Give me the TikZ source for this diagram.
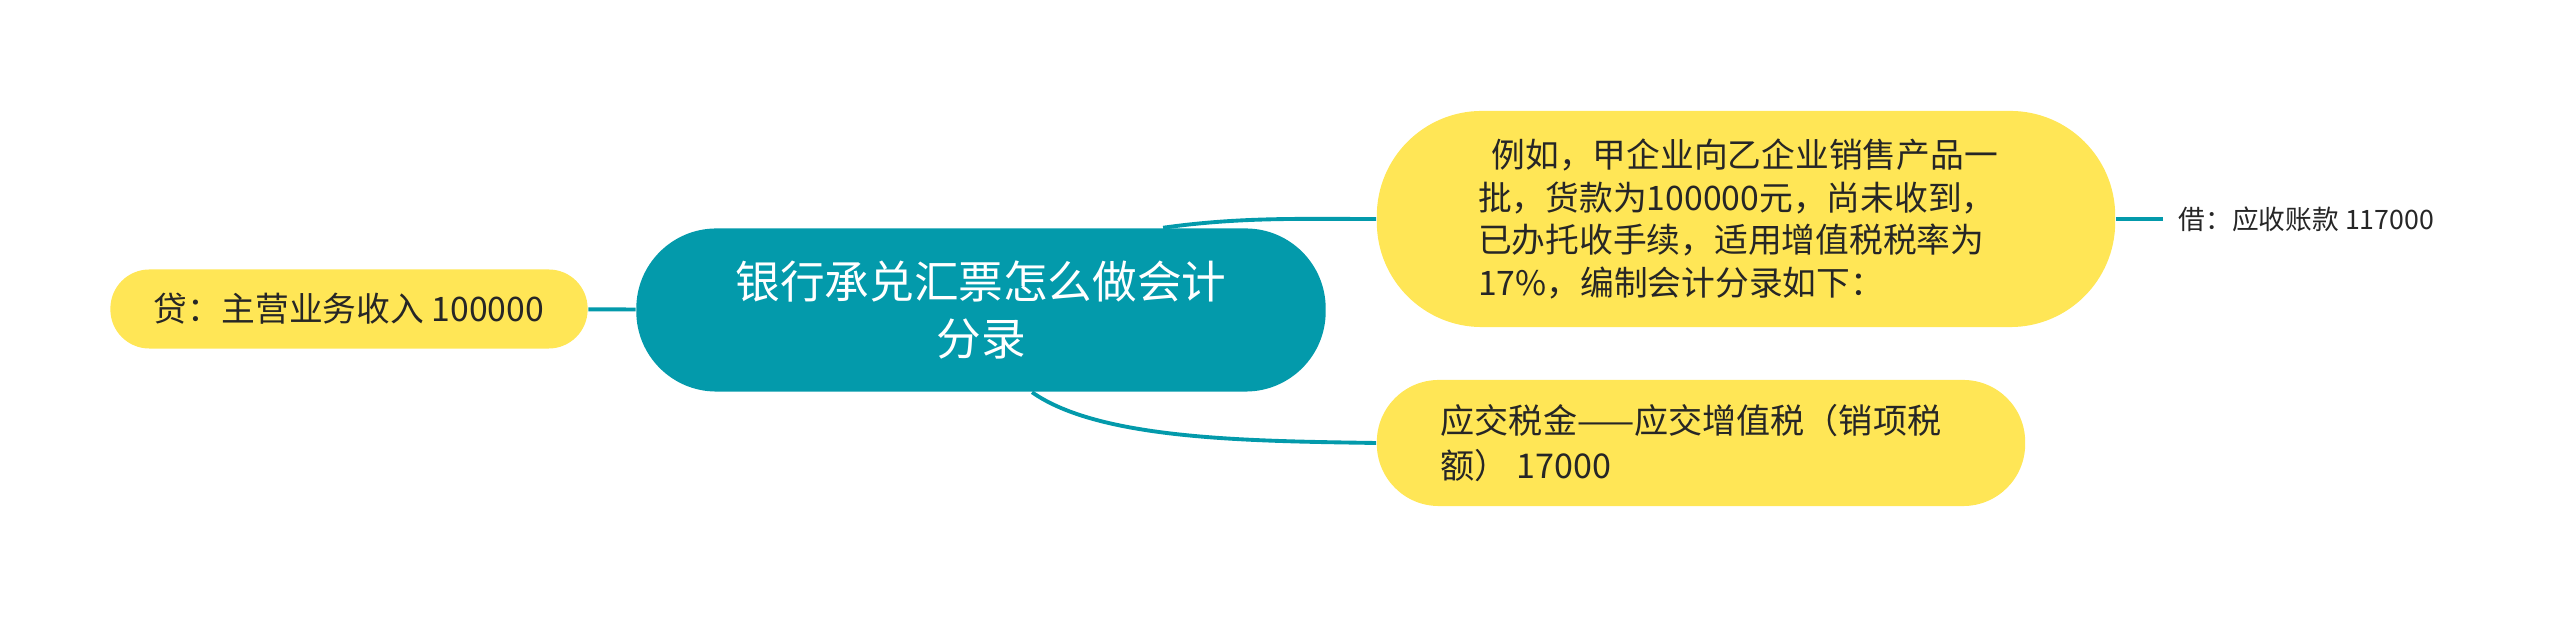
\documentclass[tikz,border=0pt]{standalone}
\usepackage{fontspec}
\newfontfamily\cjk{Noto Sans CJK SC}
\definecolor{mmteal}{HTML}{039AAB}
\definecolor{mmyellow}{HTML}{FFE656}
\definecolor{mmtext}{HTML}{262626}

\begin{document}
\begin{tikzpicture}[x=0.01cm, y=-0.01cm,
    topic/.style={fill=mmteal, text=white, align=center, rounded corners=0.8cm,
        minimum width=6.89cm, minimum height=1.63cm,
        font=\cjk\fontsize{12.7}{16.2}\selectfont},
    branch/.style={fill=mmyellow, text=mmtext, align=left, inner sep=0pt,
        font=\cjk\fontsize{9.6}{12.2}\selectfont},
    link/.style={draw=mmteal, line width=1.1pt}]

\useasboundingbox (0,0) rectangle (2560,619);

\node[topic] (root) at (981,310) {银行承兑汇票怎么做会计\\分录};

\node[branch, minimum width=4.77cm, minimum height=0.79cm, rounded corners=0.39cm]
    (credit) at (349,309) {贷：主营业务收入 100000};

\node[branch, minimum width=7.38cm, minimum height=2.16cm, rounded corners=1.05cm]
    (example) at (1746,219) {\hspace{0.4em}例如，甲企业向乙企业销售产品一\hspace*{0.16cm}\\
    批，货款为100000元，尚未收到，\\
    已办托收手续，适用增值税税率为\\
    17\%，编制会计分录如下：};

\node[branch, minimum width=6.48cm, minimum height=1.26cm, rounded corners=0.62cm,
    font=\cjk\fontsize{9.7}{12.6}\selectfont]
    (tax) at (1701,443) {应交税金——应交增值税（销项税\hspace*{0.2cm}\\额） 17000};

\node[anchor=west, inner xsep=0.15cm, inner ysep=0pt, text=mmtext,
    font=\cjk\fontsize{7.6}{9}\selectfont]
    (debit) at (2163,219) {借：应收账款 117000};

% connectors
\path[link] (credit) -- (root);
\path[link] ([xshift=1.82cm]root.north) .. controls (1240,217) and (1300,219) .. (example.west);
\path[link] ([xshift=0.51cm]root.south) .. controls (1100,440) and (1250,441) .. (tax.west);
\path[link] (example.east) -- (debit.west);

\end{tikzpicture}
\end{document}
